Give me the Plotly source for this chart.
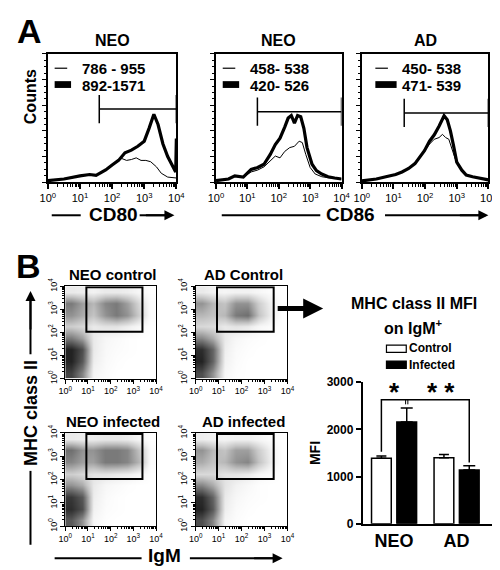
import math
import plotly.graph_objects as go

W, H = 500, 570
FONT = "Liberation Sans, Arial, Helvetica, sans-serif"

# ---------------- DATA ----------------
decade_ticks = [0, 1, 2, 3, 4]
decade_labels = ["10<sup>0</sup>", "10<sup>1</sup>", "10<sup>2</sup>", "10<sup>3</sup>", "10<sup>4</sup>"]

# Panel A histograms (x in log10 decades, y in % of max counts)
cd80_neo_thin_x = [0.0, 0.5, 1.0, 1.3, 1.5, 1.8, 2.0, 2.2, 2.3, 2.45, 2.6, 2.75, 2.9, 3.05, 3.2, 3.38, 3.53, 3.73, 4.0]
cd80_neo_thin_y = [1.3, 2.5, 5, 6, 5.3, 9.6, 13.4, 17, 18.5, 17, 17.7, 19, 17, 17, 16, 12, 7, 4, 3.3]
cd80_neo_thick_x = [0.0, 0.5, 1.0, 1.3, 1.5, 1.8, 2.0, 2.2, 2.4, 2.6, 2.8, 3.0, 3.15, 3.3, 3.43, 3.58, 3.73, 3.88, 3.98, 4.0]
cd80_neo_thick_y = [1.3, 2.5, 5, 6, 5.3, 9.6, 13.4, 17, 23, 25, 28, 32, 42, 53, 45, 30, 20, 12, 8, 34]

cd86_neo_thin_x = [0, 0.4, 0.6, 0.87, 1.12, 1.33, 1.53, 1.73, 1.89, 2.04, 2.19, 2.35, 2.5, 2.65, 2.75, 2.86, 3.0, 3.16, 3.37, 3.57, 3.78, 4.0]
cd86_neo_thin_y = [1.3, 2.5, 4.5, 4, 8, 9.5, 12, 16.6, 20.4, 19, 24, 27, 28, 32, 30.9, 21.7, 11.5, 6.4, 4.3, 3.5, 3, 2.5]
cd86_neo_thick_x = [0, 0.4, 0.6, 0.87, 1.12, 1.33, 1.53, 1.73, 1.89, 2.04, 2.19, 2.3, 2.4, 2.5, 2.6, 2.7, 2.8, 2.9, 3.06, 3.2, 3.37, 3.57, 3.78, 4.0]
cd86_neo_thick_y = [1.3, 2.5, 5, 4, 10, 11.5, 14, 21.7, 29.3, 34.4, 43, 50, 52, 46, 52, 51, 42, 27, 14, 9, 6.4, 4.3, 3.3, 2.5]

cd86_ad_thin_x = [0, 0.46, 0.76, 1.07, 1.27, 1.48, 1.68, 1.83, 1.98, 2.14, 2.29, 2.44, 2.55, 2.65, 2.75, 2.85, 2.95, 3.1, 3.3, 3.5, 3.77, 4.0]
cd86_ad_thin_y = [1, 2.5, 4.3, 6, 8, 10.7, 14.5, 19.5, 24.6, 29.7, 33.5, 34.8, 37.3, 34.8, 33.5, 25.9, 18.3, 10.7, 5.6, 4.3, 3, 1.8]
cd86_ad_thick_x = [0, 0.46, 0.76, 1.07, 1.27, 1.48, 1.68, 1.83, 1.98, 2.14, 2.29, 2.44, 2.6, 2.7, 2.8, 2.9, 3.0, 3.16, 3.3, 3.5, 3.77, 4.0]
cd86_ad_thick_y = [1, 2.5, 4.3, 6, 8, 10.7, 14.5, 19.5, 24.6, 32, 37, 43.7, 51.8, 48.7, 40, 28.4, 15.7, 9.4, 5.6, 4.3, 3, 1.8]

hist_titles = ["NEO", "NEO", "AD"]
hist_legend_thin = ["786 - 955", "458- 538", "450- 538"]
hist_legend_thick = ["892-1571", "420- 526", "471- 539"]
hist_gate_start = [1.6, 1.32, 1.34]
hist_gate_level = [57, 55, 54]

# Panel B dot plots: relative event density in 0.5-decade bins (rows bottom -> top)
dot_bins = [0.25, 0.75, 1.25, 1.75, 2.25, 2.75, 3.25, 3.75]
neo_control_density = [
    [0.85, 0.55, 0.06, 0.02, 0.00, 0.00, 0.00, 0.00],
    [1.00, 0.75, 0.10, 0.03, 0.01, 0.00, 0.00, 0.00],
    [1.00, 0.80, 0.12, 0.04, 0.02, 0.01, 0.00, 0.00],
    [0.60, 0.45, 0.12, 0.05, 0.03, 0.01, 0.00, 0.00],
    [0.25, 0.20, 0.12, 0.15, 0.15, 0.10, 0.04, 0.00],
    [0.50, 0.40, 0.30, 0.50, 0.60, 0.50, 0.25, 0.02],
    [0.60, 0.45, 0.35, 0.55, 0.60, 0.45, 0.20, 0.02],
    [0.12, 0.10, 0.08, 0.12, 0.12, 0.10, 0.05, 0.00],
]
ad_control_density = [
    [0.80, 0.50, 0.05, 0.01, 0.00, 0.00, 0.00, 0.00],
    [1.00, 0.70, 0.08, 0.02, 0.00, 0.00, 0.00, 0.00],
    [0.95, 0.70, 0.10, 0.03, 0.01, 0.00, 0.00, 0.00],
    [0.55, 0.40, 0.12, 0.05, 0.02, 0.01, 0.00, 0.00],
    [0.20, 0.18, 0.12, 0.15, 0.12, 0.05, 0.02, 0.00],
    [0.35, 0.30, 0.35, 0.60, 0.65, 0.30, 0.10, 0.00],
    [0.50, 0.35, 0.30, 0.50, 0.50, 0.25, 0.08, 0.00],
    [0.12, 0.08, 0.06, 0.08, 0.08, 0.05, 0.02, 0.00],
]
neo_infected_density = [
    [0.75, 0.50, 0.05, 0.01, 0.00, 0.00, 0.00, 0.00],
    [0.95, 0.80, 0.08, 0.02, 0.01, 0.00, 0.00, 0.00],
    [0.90, 0.75, 0.10, 0.03, 0.01, 0.00, 0.00, 0.00],
    [0.50, 0.40, 0.12, 0.05, 0.03, 0.01, 0.00, 0.00],
    [0.25, 0.20, 0.15, 0.15, 0.12, 0.10, 0.05, 0.00],
    [0.55, 0.45, 0.45, 0.60, 0.60, 0.55, 0.35, 0.02],
    [0.65, 0.50, 0.50, 0.60, 0.60, 0.55, 0.30, 0.02],
    [0.12, 0.10, 0.10, 0.12, 0.12, 0.10, 0.05, 0.00],
]
ad_infected_density = [
    [0.80, 0.55, 0.06, 0.02, 0.00, 0.00, 0.00, 0.00],
    [1.00, 0.75, 0.10, 0.03, 0.01, 0.00, 0.00, 0.00],
    [0.95, 0.70, 0.12, 0.05, 0.02, 0.01, 0.00, 0.00],
    [0.55, 0.40, 0.15, 0.08, 0.04, 0.01, 0.00, 0.00],
    [0.20, 0.20, 0.15, 0.15, 0.12, 0.05, 0.02, 0.00],
    [0.40, 0.30, 0.35, 0.50, 0.55, 0.30, 0.10, 0.00],
    [0.50, 0.35, 0.30, 0.45, 0.45, 0.25, 0.08, 0.00],
    [0.10, 0.08, 0.06, 0.08, 0.08, 0.05, 0.02, 0.00],
]
dot_titles = ["NEO control", "AD Control", "NEO infected", "AD infected"]
gate_igm = [0.93, 3.4]
gate_mhc = [2.03, 3.96]

# Bar chart: MHC class II MFI on IgM+
groups = ["NEO", "AD"]
control_mfi = [1390, 1400]
control_sem = [45, 70]
infected_mfi = [2155, 1140]
infected_sem = [300, 90]

# ---------------- FIGURE ----------------
def px(x):
    return x / W

def py(y):
    return 1 - y / H

minor_vals = [d + math.log10(m) for d in range(4) for m in range(2, 10)]

fig = go.Figure()
layout = {}
shapes = []
annotations = []

def ann(text, x, y, size, bold=True, **kw):
    t = f"<b>{text}</b>" if bold else text
    d = dict(text=t, x=px(x), y=py(y), xref="paper", yref="paper", showarrow=False,
             font=dict(size=size, color="black", family=FONT), xanchor="center", yanchor="middle")
    d.update(kw)
    annotations.append(d)

def pline(x0, y0, x1, y1, w=2):
    shapes.append(dict(type="line", xref="paper", yref="paper", x0=px(x0), y0=py(y0),
                       x1=px(x1), y1=py(y1), line=dict(color="black", width=w)))

def parrow(xh, yh, dx, dy, w=2, size=1.0):
    annotations.append(dict(text="", x=px(xh), y=py(yh), xref="paper", yref="paper",
                            showarrow=True, ax=dx, ay=dy, axref="pixel", ayref="pixel",
                            arrowhead=2, arrowsize=size, arrowwidth=w, arrowcolor="black"))

# ---- Panel A histograms ----
hist_boxes = [(33, 166), (207, 337), (358, 489)]
hist_data = [
    (cd80_neo_thin_x, cd80_neo_thin_y, cd80_neo_thick_x, cd80_neo_thick_y),
    (cd86_neo_thin_x, cd86_neo_thin_y, cd86_neo_thick_x, cd86_neo_thick_y),
    (cd86_ad_thin_x, cd86_ad_thin_y, cd86_ad_thick_x, cd86_ad_thick_y),
]
for i, ((xl, xr), (tx, ty, kx, ky)) in enumerate(zip(hist_boxes, hist_data)):
    n = i + 1
    xa, ya = f"x{n}", f"y{n}"
    fig.add_trace(go.Scatter(x=tx, y=ty, mode="lines", line=dict(color="black", width=1),
                             xaxis=xa, yaxis=ya, showlegend=False, hoverinfo="skip"))
    fig.add_trace(go.Scatter(x=kx, y=ky, mode="lines", line=dict(color="black", width=3.2),
                             xaxis=xa, yaxis=ya, showlegend=False, hoverinfo="skip"))
    layout[f"xaxis{n}"] = dict(domain=[px(xl), px(xr)], range=[0, 4], anchor=ya,
                               tickvals=decade_ticks, ticktext=decade_labels, ticks="outside",
                               ticklen=5, tickwidth=1.5, tickcolor="black", showline=True,
                               linecolor="black", linewidth=1.5, mirror=True, showgrid=False,
                               zeroline=False, tickfont=dict(size=11, color="black", family=FONT),
                               minor=dict(tickvals=minor_vals, ticks="outside", ticklen=3,
                                          tickwidth=1, tickcolor="black", showgrid=False))
    layout[f"yaxis{n}"] = dict(domain=[py(170), py(38)], range=[0, 100], anchor=xa,
                               showticklabels=False, ticks="outside", ticklen=4, tickwidth=1,
                               tickcolor="black", dtick=20, showline=True, linecolor="black",
                               linewidth=1.5, mirror=True, showgrid=False, zeroline=False,
                               minor=dict(dtick=5, ticks="outside", ticklen=2, tickcolor="black",
                                          showgrid=False))
    # gate bracket
    g0, lvl = hist_gate_start[i], hist_gate_level[i]
    shapes.append(dict(type="line", xref=xa, yref=ya, x0=g0, x1=4, y0=lvl, y1=lvl,
                       line=dict(color="black", width=1.5)))
    for gx in (g0, 4):
        shapes.append(dict(type="line", xref=xa, yref=ya, x0=gx, x1=gx, y0=lvl - 11, y1=lvl + 11,
                           line=dict(color="black", width=1.5)))
    # title
    ann(hist_titles[i], (xl + xr) / 2, 24, 16)
    # legend
    lx = xl + 7 if i < 2 else xl + 14
    pline(lx, 52.7, lx + 13, 52.7, 1.2)
    shapes.append(dict(type="rect", xref="paper", yref="paper", x0=px(lx), x1=px(lx + 17 + 5 * (i == 2)),
                       y0=py(73), y1=py(66), fillcolor="black", line=dict(width=0)))
    tx0 = lx + 26
    ann(hist_legend_thin[i], tx0, 53, 15, xanchor="left")
    ann(hist_legend_thick[i], tx0, 70, 15, xanchor="left")

ann("A", 14, 14, 34)
ann("Counts", 15, 82, 16, textangle=-90)
# CD80 axis title
ann("CD80", 101, 203, 19)
pline(37, 204, 67, 204, 2)
pline(128, 204, 160, 204, 2)
parrow(164, 204, -30, 0, 2, 1.0)
# CD86 axis title
ann("CD86", 346, 203, 19)
pline(213, 204, 315, 204, 2)
pline(382, 204, 484, 204, 2)
parrow(489, 204, -30, 0, 2, 1.0)

# ---- Panel B dot plots ----
dot_boxes = [((51, 145), (277, 372)), ((186, 281), (277, 372)),
             ((51, 145), (428, 524)), ((186, 281), (428, 524))]
dot_grids = [neo_control_density, ad_control_density, neo_infected_density, ad_infected_density]
dot_colorscale = [[0, "white"], [0.08, "#f2f2f2"], [0.3, "#c4c4c4"], [0.6, "#7a7a7a"], [1, "#222222"]]
for j, (((xl, xr), (yt, yb)), grid) in enumerate(zip(dot_boxes, dot_grids)):
    n = j + 4
    xa, ya = f"x{n}", f"y{n}"
    fig.add_trace(go.Heatmap(x=dot_bins, y=dot_bins, z=grid, colorscale=dot_colorscale, zmin=0, zmax=1,
                             zsmooth="best", showscale=False, xaxis=xa, yaxis=ya, hoverinfo="skip"))
    common = dict(range=[0, 4], tickvals=decade_ticks, ticktext=decade_labels, ticks="outside",
                  ticklen=4, tickwidth=1, tickcolor="black", showline=True, linecolor="black",
                  linewidth=1, mirror=True, showgrid=False, zeroline=False,
                  tickfont=dict(size=9, color="black", family=FONT),
                  minor=dict(tickvals=minor_vals, ticks="outside", ticklen=2, tickwidth=1,
                             tickcolor="black", showgrid=False))
    layout[f"xaxis{n}"] = dict(domain=[px(xl), px(xr)], anchor=ya, **common)
    layout[f"yaxis{n}"] = dict(domain=[py(yb), py(yt)], anchor=xa, tickangle=-90, **common)
    shapes.append(dict(type="rect", xref=xa, yref=ya, x0=gate_igm[0], x1=gate_igm[1],
                       y0=gate_mhc[0], y1=gate_mhc[1], line=dict(color="black", width=2)))
    ann(dot_titles[j], (xl + xr) / 2 + 2, yt - 12, 15)

ann("B", 13, 256, 34)
ann("MHC class II", 15, 407, 18, textangle=-90)
pline(15, 467, 15, 543, 2)
pline(15, 347, 15, 292, 2)
parrow(15, 282, 0, 40, 2, 1.0)
ann("IgM", 154, 554, 19)
pline(40, 557, 130, 557, 2)
pline(180, 557, 270, 557, 2)
parrow(276, 557, -30, 0, 2, 1.0)

# big arrow to bar chart
parrow(318, 300, -47, 0, 5, 0.8)

# ---- Bar chart ----
bargap, bargroupgap = 0.19, 0.22
fig.add_trace(go.Bar(x=[0, 1], y=control_mfi, name="Control", xaxis="x8", yaxis="y8",
                     marker=dict(color="white", line=dict(color="black", width=1.5)),
                     error_y=dict(type="data", symmetric=False, array=control_sem,
                                  arrayminus=[0, 0], color="black", thickness=1.5, width=5),
                     showlegend=False, hoverinfo="skip"))
fig.add_trace(go.Bar(x=[0, 1], y=infected_mfi, name="Infected", xaxis="x8", yaxis="y8",
                     marker=dict(color="black", line=dict(color="black", width=1.5)),
                     error_y=dict(type="data", symmetric=False, array=infected_sem,
                                  arrayminus=[0, 0], color="black", thickness=1.5, width=6),
                     showlegend=False, hoverinfo="skip"))
layout["xaxis8"] = dict(domain=[px(359), px(493)], range=[-0.5, 1.57], anchor="y8",
                        tickvals=[0, 1], ticktext=[f"<b>{g}</b>" for g in groups],
                        tickfont=dict(size=18, color="black", family=FONT), ticks="",
                        showline=True, linecolor="black", linewidth=2, showgrid=False, zeroline=False)
layout["yaxis8"] = dict(domain=[py(521.5), py(375.7)], range=[0, 3000], anchor="x8",
                        tickvals=[0, 1000, 2000, 3000],
                        ticktext=["<b>0</b>", "<b>1000</b>", "<b>2000</b>", "<b>3000</b>"],
                        tickfont=dict(size=12, color="black", family=FONT), ticks="outside",
                        ticklen=5, tickwidth=2, tickcolor="black", showline=True, linecolor="black",
                        linewidth=2, showgrid=False, zeroline=False,
                        title=dict(text="<b>MFI</b>", font=dict(size=14, color="black", family=FONT),
                                   standoff=3))

slot = (1 - bargap) / 2
c_off = slot / 2
ctrl_neo_x, inf_neo_x, inf_ad_x = 0 - c_off, 0 + c_off, 1 + c_off
bracket_y = 2630
shapes.append(dict(type="path", xref="x8", yref="y8",
                   path=f"M {ctrl_neo_x},{control_mfi[0] + control_sem[0] + 90} V {bracket_y} "
                        f"H {inf_ad_x} V {infected_mfi[1] + infected_sem[1] + 70}",
                   line=dict(color="black", width=1.5)))
for dx in (-0.018, 0.018):
    shapes.append(dict(type="line", xref="x8", yref="y8", x0=inf_neo_x + dx, x1=inf_neo_x + dx,
                       y0=bracket_y, y1=bracket_y - 100, line=dict(color="black", width=1)))
annotations.append(dict(text="<b>*</b>", x=0.0, y=2790, xref="x8", yref="y8", showarrow=False,
                        font=dict(size=26, color="black", family=FONT), yanchor="middle"))
annotations.append(dict(text="<b>* *</b>", x=0.75, y=2790, xref="x8", yref="y8", showarrow=False,
                        font=dict(size=26, color="black", family=FONT), yanchor="middle"))

ann("MHC class II MFI", 412, 295, 16)
ann("on IgM<sup>+</sup>", 411, 319, 16)
shapes.append(dict(type="rect", xref="paper", yref="paper", x0=px(383.5), x1=px(404),
                   y0=py(345), y1=py(337.5), fillcolor="white", line=dict(color="black", width=1.2)))
shapes.append(dict(type="rect", xref="paper", yref="paper", x0=px(383.5), x1=px(404),
                   y0=py(361.5), y1=py(354), fillcolor="black", line=dict(color="black", width=1.2)))
ann("Control", 405, 341, 12, xanchor="left")
ann("Infected", 405, 358, 12, xanchor="left")

layout.update(dict(width=W, height=H, margin=dict(l=0, r=0, t=0, b=0), paper_bgcolor="white",
                   plot_bgcolor="white", barmode="group", bargap=bargap, bargroupgap=bargroupgap,
                   font=dict(family=FONT, color="black"), shapes=shapes, annotations=annotations,
                   showlegend=False))
fig.update_layout(**layout)
fig.write_html("out.html")
